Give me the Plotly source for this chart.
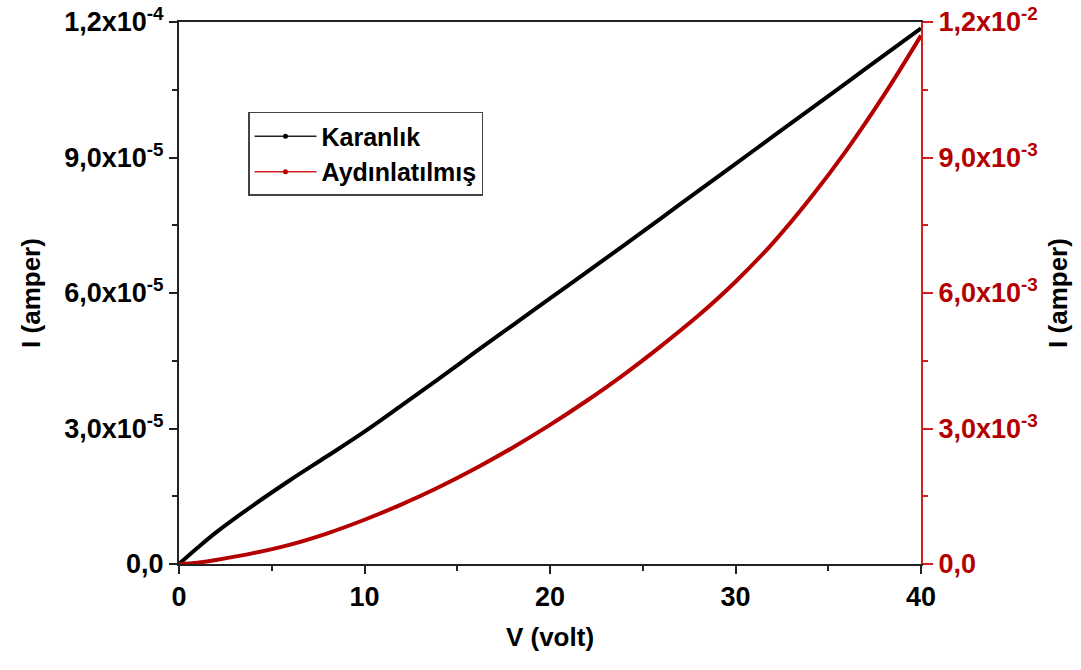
import plotly.graph_objects as go

# Voltage sweep (V)
voltage = [0, 1, 2, 4, 6, 8, 10, 12, 14, 16, 18, 20, 22, 24, 26, 28, 30, 32, 34, 36, 38, 40]

# Dark current (A), left axis
current_dark = [0.0, 3.6e-6, 7.0e-6, 1.3e-5, 1.86e-5, 2.39e-5, 2.93e-5, 3.51e-5, 4.1e-5, 4.7e-5,
                5.29e-5, 5.88e-5, 6.47e-5, 7.06e-5, 7.66e-5, 8.26e-5, 8.86e-5, 9.46e-5,
                1.006e-4, 1.066e-4, 1.126e-4, 1.186e-4]

# Illuminated current (A), right axis
current_light = [0.0, 0.03e-3, 0.09e-3, 0.24e-3, 0.43e-3, 0.68e-3, 0.98e-3, 1.32e-3, 1.7e-3,
                 2.12e-3, 2.58e-3, 3.08e-3, 3.62e-3, 4.2e-3, 4.83e-3, 5.5e-3, 6.25e-3,
                 7.1e-3, 8.08e-3, 9.17e-3, 10.38e-3, 11.7e-3]

series_names = ["Karanlık", "Aydınlatılmış"]

x_ticks = [0, 10, 20, 30, 40]
left_ticks = [0, 3e-5, 6e-5, 9e-5, 1.2e-4]
left_labels = ["0,0", "3,0x10<sup>-5</sup>", "6,0x10<sup>-5</sup>", "9,0x10<sup>-5</sup>", "1,2x10<sup>-4</sup>"]
right_ticks = [0, 3e-3, 6e-3, 9e-3, 1.2e-2]
right_labels = ["0,0", "3,0x10<sup>-3</sup>", "6,0x10<sup>-3</sup>", "9,0x10<sup>-3</sup>", "1,2x10<sup>-2</sup>"]

BLACK = "#000000"
AXIS = "#222222"
RED = "#b40000"
RED_AXIS = "#d02020"
FONT = "Liberation Sans"
TICK_SIZE = 27
TITLE_SIZE = 26

fig = go.Figure()

fig.add_trace(go.Scatter(x=voltage, y=current_dark, mode="lines",
                         line=dict(color=BLACK, width=4, shape="spline", smoothing=1.0),
                         showlegend=False, yaxis="y"))
fig.add_trace(go.Scatter(x=voltage, y=current_light, mode="lines",
                         line=dict(color=RED, width=4, shape="spline", smoothing=1.0),
                         showlegend=False, yaxis="y2"))

# Legend entries drawn as line-with-dot symbols
fig.add_trace(go.Scatter(x=[None], y=[None], mode="lines+markers", name=series_names[0],
                         line=dict(color="#222222", width=1.5), marker=dict(size=5, color=BLACK)))
fig.add_trace(go.Scatter(x=[None], y=[None], mode="lines+markers", name=series_names[1],
                         line=dict(color="#d42020", width=1.5), marker=dict(size=5, color=RED),
                         yaxis="y2"))

fig.update_layout(
    width=1081, height=670,
    margin=dict(l=179, r=160, t=22, b=106, autoexpand=False),
    paper_bgcolor="white", plot_bgcolor="white",
    font=dict(family=FONT, size=TICK_SIZE, color=BLACK),
    xaxis=dict(
        range=[0, 40], tickvals=x_ticks, ticks="outside", ticklen=8, tickwidth=2,
        tickcolor=AXIS, showline=True, linecolor=AXIS, linewidth=2, mirror=True,
        showgrid=False, zeroline=False, automargin=False,
        tickfont=dict(family=FONT, size=TICK_SIZE, color=BLACK, weight="bold"),
        minor=dict(dtick=5, ticks="outside", ticklen=5, tickwidth=2, tickcolor=AXIS, showgrid=False),
        title=dict(text="V (volt)", font=dict(family=FONT, size=TITLE_SIZE, weight="bold"), standoff=16),
    ),
    yaxis=dict(
        range=[0, 1.2e-4], tickvals=left_ticks, ticktext=left_labels, ticks="outside",
        ticklen=8, tickwidth=2, tickcolor=AXIS, showline=True, linecolor=AXIS,
        linewidth=2, showgrid=False, zeroline=False, automargin=False,
        tickfont=dict(family=FONT, size=TICK_SIZE, color=BLACK, weight="bold"),
        minor=dict(tick0=0, dtick=1.5e-5, ticks="outside", ticklen=5, tickwidth=2,
                   tickcolor=AXIS, showgrid=False),
        title=dict(text="I (amper)", font=dict(family=FONT, size=TITLE_SIZE, weight="bold"), standoff=16),
    ),
    yaxis2=dict(
        overlaying="y", side="right", anchor="x",
        range=[0, 1.2e-2], tickvals=right_ticks, ticktext=right_labels, ticks="outside",
        ticklen=10, tickwidth=2, tickcolor=RED_AXIS, showline=True, linecolor=RED_AXIS,
        linewidth=2, showgrid=False, zeroline=False, automargin=False,
        tickfont=dict(family=FONT, size=TICK_SIZE, color=RED, weight="bold"),
        minor=dict(tick0=0, dtick=1.5e-3, ticks="outside", ticklen=5, tickwidth=2,
                   tickcolor=RED_AXIS, showgrid=False),
        title=dict(text="I (amper)", font=dict(family=FONT, size=TITLE_SIZE, color=BLACK, weight="bold"),
                   standoff=12),
    ),
    legend=dict(
        x=0.093, y=0.834, xanchor="left", yanchor="top",
        bgcolor="white", bordercolor="#444444", borderwidth=1.5,
        font=dict(family=FONT, size=25, color=BLACK, weight="bold"),
        tracegroupgap=0, itemwidth=62,
    ),
)

fig.write_html("out.html")
